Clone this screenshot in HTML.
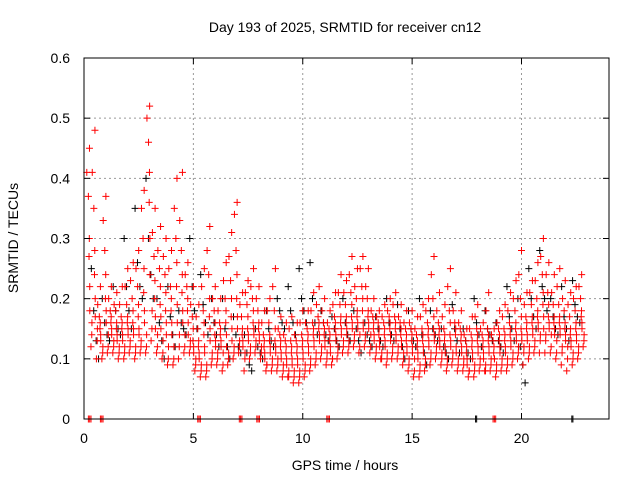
<!DOCTYPE html>
<html><head><meta charset="utf-8"><style>
body{margin:0;background:#fff}
svg{display:block;font-family:"Liberation Sans",sans-serif}
</style></head><body>
<svg id="chart" width="640" height="480" viewBox="0 0 640 480">
<text x="345" y="32" text-anchor="middle" font-size="14">Day 193 of 2025, SRMTID for receiver cn12</text>
<text x="345" y="470" text-anchor="middle" font-size="14">GPS time / hours</text>
<text transform="translate(18,238) rotate(-90)" text-anchor="middle" font-size="14">SRMTID / TECUs</text>
<g id="grid"></g><g id="black"></g><g id="red"></g><g id="axes"></g>
</svg>
<script>
const xTicks=[0,5,10,15,20];
const yTicks=[0,0.1,0.2,0.3,0.4,0.5,0.6];
const yTickLabels=["0","0.1","0.2","0.3","0.4","0.5","0.6"];
// values in 0.01 TECU
const redBinStart=0.25, redBinStep=0.25;
const redValues=[
[45,41,37,30,27,22,18,16,14,12],[48,41,35,28,24,20,17,15,13,10],[22,19,17,16,15,14,13,12,11,10],[37,33,28,24,20,18,16,14,12,11],
[22,20,18,17,16,15,14,13,12,11],[21,19,18,16,15,14,13,12,11,10],[22,19,17,16,15,14,13,12,11,10],[25,22,19,17,16,15,14,13,12,11],
[26,23,20,18,16,15,14,12,11,10],[28,25,22,19,17,15,14,13,12,11],[38,35,30,25,21,18,16,14,12,11],[52,50,46,41,36,30,24,18,15,13],
[35,31,27,23,20,17,15,14,12,11],[32,28,25,22,19,17,15,13,11,10],[30,27,24,21,18,16,14,12,10,9],[28,25,22,20,18,16,14,12,10,9],
[40,35,30,26,22,19,16,14,12,10],[41,33,28,24,21,18,16,14,12,11],[26,24,22,20,18,16,14,13,12,11],[22,19,17,15,13,12,11,10,9,8],
[19,17,15,13,12,11,10,9,8,7],[25,22,18,16,14,12,11,9,8,7],[32,28,24,20,17,15,13,11,10,9],[22,20,18,16,14,13,12,11,10,9],
[20,18,16,15,14,13,12,11,9,8],[26,23,20,18,16,14,12,11,10,9],[31,27,23,20,17,15,13,12,11,10],[36,34,28,24,20,17,15,13,12,11],
[21,19,17,15,14,13,12,11,10,8],[23,21,19,17,15,14,13,12,11,10],[25,22,20,18,16,15,14,13,12,11],[22,20,18,16,15,14,13,12,11,10],
[18,16,14,13,12,11,10,9,9,8],[20,18,16,14,13,12,11,10,9,8],[25,22,18,15,13,12,11,10,9,8],[17,15,14,13,12,11,10,9,8,7],
[16,14,13,12,11,10,9,8,7,7],[17,15,13,12,11,10,9,8,7,6],[16,14,13,12,11,10,9,8,7,6],[18,16,14,13,12,11,10,9,8,7],
[18,16,15,14,13,12,11,10,9,8],[21,18,16,15,14,13,12,11,10,9],[22,19,17,16,15,14,13,12,11,10],[20,18,16,15,14,13,12,11,10,9],
[18,16,15,14,13,12,11,10,10,9],[21,19,17,16,15,14,13,12,11,10],[24,21,19,17,16,15,14,13,12,11],[23,21,19,17,16,15,14,13,12,11],
[27,24,21,19,17,16,15,14,13,12],[25,22,20,18,17,16,15,14,12,11],[27,25,22,20,18,16,15,14,13,12],[25,22,20,18,17,16,15,14,12,11],
[20,18,17,16,15,14,13,12,11,10],[18,17,16,15,14,13,12,11,10,10],[19,17,16,15,14,13,12,11,10,9],[20,18,17,16,15,14,13,12,11,10],
[21,19,17,16,15,14,13,12,11,10],[19,17,16,15,14,13,12,11,10,9],[18,16,15,14,13,12,11,10,9,8],[18,16,15,14,13,12,11,10,8,7],
[17,15,14,13,12,11,10,9,8,7],[19,17,15,14,13,12,11,10,9,8],[20,18,16,15,14,13,12,11,10,9],[27,24,20,17,15,14,13,12,11,10],
[21,18,16,15,14,13,12,11,10,9],[19,17,15,14,13,12,11,10,9,8],[25,22,18,16,14,13,12,11,10,9],[21,18,16,15,14,12,11,10,9,8],
[18,16,15,14,13,12,11,10,9,8],[15,14,13,12,11,10,9,8,8,7],[17,15,14,13,12,11,10,9,8,7],[19,17,15,14,13,12,11,10,9,8],
[16,15,14,13,12,11,10,9,8,8],[21,18,15,14,13,12,11,10,9,8],[15,14,13,12,11,10,10,9,8,7],[18,16,15,14,13,12,11,10,9,8],
[19,17,15,14,13,12,11,10,9,8],[21,18,16,15,14,13,12,11,10,9],[23,20,18,16,15,14,13,12,11,10],[28,24,20,17,15,14,13,12,11,9],
[21,19,17,16,15,14,13,12,11,10],[23,21,19,17,16,15,14,13,12,11],[26,23,20,18,17,16,15,14,13,11],[30,27,24,21,19,17,15,14,13,11],
[26,24,21,19,17,16,15,14,12,11],[24,21,19,17,16,15,14,13,11,10],[25,22,19,17,16,15,14,12,11,9],[23,20,18,16,15,14,13,12,10,8],
[21,19,17,15,14,13,12,11,10,9],[22,20,18,16,15,14,13,12,11,10],[24,22,20,18,17,16,15,14,13,12]];
const blackBinStart=0.5, blackBinStep=0.5;
const blackValues=[
[25,18,13,10],[20,16,14,13],[22,18,15,14],[30,22,18,15],[35,26,22,20],[40,30,24,20],[20,16,13,10],[22,17,14,12],[18,16,15,14],[30,22,18,15],
[24,19,16,14],[20,16,14,12],[20,15,12,10],[17,14,12,11],[14,11,9,8],[15,12,11,10],[18,15,13,12],[20,18,16,15],[22,18,16,14],[25,20,18,16],
[26,20,16,14],[18,16,14,13],[17,15,13,12],[20,16,14,13],[18,15,13,11],[16,14,13,12],[17,15,13,12],[20,16,14,13],[19,15,12,10],[18,15,13,12],
[20,14,11,9],[18,15,14,13],[15,12,11,10],[19,15,13,11],[15,13,11,10],[20,16,14,12],[18,15,14,13],[16,13,12,11],[22,17,15,13],[20,12,9,6],
[25,20,17,15],[28,22,20,18],[20,17,15,14],[22,17,15,13],[23,19,17,16]];
const redZeroTimes=[0.2,0.75,5.2,7.1,7.9,11.1,18.7];
const blackZeroTimes=[17.9,22.3];
const X0=84,X1=609,Y0=419,Y1=58,XMAX=24,YMAX=0.6;
const sx=t=>X0+(X1-X0)*t/XMAX;
const sy=v=>Y0-(Y0-Y1)*v/YMAX;
const NS="http://www.w3.org/2000/svg";
function mk(tag,parent){const e=document.createElementNS(NS,tag);parent.appendChild(e);return e;}
const grid=document.getElementById('grid'),axes=document.getElementById('axes');
xTicks.forEach((t,i)=>{
 if(t>0){const g=mk('line',grid);g.setAttribute('x1',sx(t));g.setAttribute('x2',sx(t));g.setAttribute('y1',Y1);g.setAttribute('y2',Y0);g.setAttribute('stroke','#999');g.setAttribute('stroke-dasharray','2,3');
 
 }
 const tk=mk('line',axes);tk.setAttribute('x1',sx(t));tk.setAttribute('x2',sx(t));tk.setAttribute('y1',Y0);tk.setAttribute('y2',Y0-6);tk.setAttribute('stroke','#000');
 
 
 const tk2=mk('line',axes);tk2.setAttribute('x1',sx(t));tk2.setAttribute('x2',sx(t));tk2.setAttribute('y1',Y1);tk2.setAttribute('y2',Y1+6);tk2.setAttribute('stroke','#000');
 
 
 const l=mk('text',axes);l.setAttribute('x',sx(t));l.setAttribute('y',443);l.setAttribute('text-anchor','middle');l.setAttribute('font-size','14');l.textContent=String(t);
 
 
});
yTicks.forEach((v,i)=>{
 if(v>0&&v<YMAX){const g=mk('line',grid);g.setAttribute('x1',X0);g.setAttribute('x2',X1);g.setAttribute('y1',sy(v));g.setAttribute('y2',sy(v));g.setAttribute('stroke','#999');g.setAttribute('stroke-dasharray','2,3');
 
 }
 const tk=mk('line',axes);tk.setAttribute('x1',X0);tk.setAttribute('x2',X0+6);tk.setAttribute('y1',sy(v));tk.setAttribute('y2',sy(v));tk.setAttribute('stroke','#000');
 
 
 const tk2=mk('line',axes);tk2.setAttribute('x1',X1);tk2.setAttribute('x2',X1-6);tk2.setAttribute('y1',sy(v));tk2.setAttribute('y2',sy(v));tk2.setAttribute('stroke','#000');
 
 
 const l=mk('text',axes);l.setAttribute('x',70);l.setAttribute('y',sy(v)+5);l.setAttribute('text-anchor','end');l.setAttribute('font-size','14');l.textContent=yTickLabels[i];
 
 
});
const frame=mk('rect',axes);frame.setAttribute('x',X0);frame.setAttribute('y',Y1);frame.setAttribute('width',X1-X0);frame.setAttribute('height',Y0-Y1);frame.setAttribute('fill','none');frame.setAttribute('stroke','#000');


function plus(parent,t,v,color,name){
 const x=sx(t),y=sy(v);
 const p=mk('path',parent);p.setAttribute('d',`M${x-3.5},${y}H${x+3.5}M${x},${y-3.5}V${y+3.5}`);p.setAttribute('stroke',color);p.setAttribute('stroke-width','1');
 
 
}
const blackG=document.getElementById('black'),redG=document.getElementById('red');
blackValues.forEach((vals,i)=>vals.forEach((v,j)=>plus(blackG,blackBinStart+i*blackBinStep+(j-1.5)*0.11,v/100,'#000','black-point')));
blackZeroTimes.forEach(t=>{plus(blackG,t,0,'#000','black-zero-point');plus(blackG,t+0.05,0,'#000','black-zero-point');});
redValues.forEach((vals,i)=>vals.forEach((v,j)=>plus(redG,redBinStart+i*redBinStep+(j-4.5)*0.025*((j*7)%10)/5,v/100,'#f00','red-point')));
redZeroTimes.forEach(t=>{for(let k=0;k<3;k++)plus(redG,t+k*0.06,0,'#f00','red-zero-point');});
</script>
</body></html>
